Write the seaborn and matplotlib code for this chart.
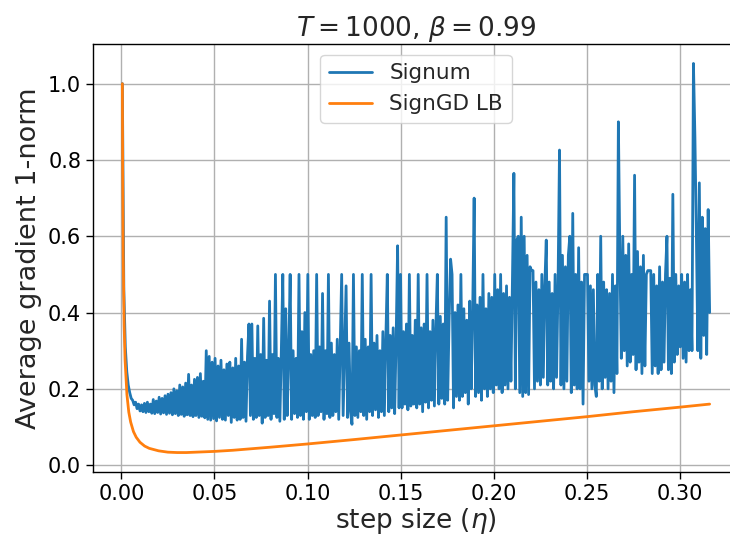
import numpy as np
import matplotlib
matplotlib.use("Agg")
import matplotlib.pyplot as plt
import seaborn as sns

# ---------------- data ----------------
eta_start, eta_end = 0.00055, 0.316
signum = [
    1.00, 0.46, 0.31, 0.245, 0.21, 0.19, 0.175, 0.17, 0.158, 0.165,
    0.148, 0.16, 0.142, 0.158, 0.14, 0.162, 0.138, 0.165, 0.14, 0.16,
    0.136, 0.172, 0.135, 0.168, 0.138, 0.178, 0.134, 0.175, 0.137, 0.182,
    0.133, 0.186, 0.136, 0.19, 0.132, 0.20, 0.135, 0.195, 0.13, 0.21,
    0.133, 0.205, 0.128, 0.215, 0.132, 0.238, 0.13, 0.21, 0.127, 0.225,
    0.13, 0.23, 0.125, 0.24, 0.128, 0.22, 0.124, 0.30, 0.12, 0.285,
    0.118, 0.27, 0.122, 0.28, 0.116, 0.26, 0.125, 0.275, 0.12, 0.25,
    0.118, 0.265, 0.13, 0.27, 0.112, 0.255, 0.125, 0.28, 0.118, 0.26,
    0.12, 0.33, 0.125, 0.27, 0.115, 0.285, 0.37, 0.13, 0.37, 0.12,
    0.28, 0.125, 0.365, 0.13, 0.29, 0.11, 0.385, 0.125, 0.275, 0.13,
    0.43, 0.12, 0.29, 0.135, 0.50, 0.125, 0.28, 0.115, 0.30, 0.50,
    0.12, 0.41, 0.13, 0.29, 0.50, 0.12, 0.30, 0.135, 0.28, 0.125,
    0.50, 0.13, 0.35, 0.12, 0.40, 0.14, 0.50, 0.12, 0.29, 0.13,
    0.30, 0.125, 0.50, 0.13, 0.31, 0.14, 0.45, 0.12, 0.30, 0.135,
    0.50, 0.125, 0.32, 0.13, 0.29, 0.14, 0.33, 0.12, 0.31, 0.50,
    0.13, 0.30, 0.47, 0.125, 0.32, 0.14, 0.107, 0.50, 0.13, 0.31,
    0.125, 0.30, 0.14, 0.50, 0.13, 0.33, 0.12, 0.31, 0.14, 0.50,
    0.13, 0.32, 0.145, 0.34, 0.125, 0.30, 0.14, 0.35, 0.13, 0.33,
    0.50, 0.14, 0.34, 0.15, 0.36, 0.135, 0.33, 0.575, 0.15, 0.50,
    0.15, 0.35, 0.16, 0.37, 0.145, 0.50, 0.155, 0.34, 0.16, 0.38,
    0.15, 0.50, 0.16, 0.36, 0.14, 0.37, 0.165, 0.50, 0.15, 0.35,
    0.17, 0.38, 0.155, 0.36, 0.50, 0.16, 0.39, 0.175, 0.37, 0.16,
    0.65, 0.17, 0.38, 0.54, 0.50, 0.15, 0.40, 0.18, 0.42, 0.17,
    0.50, 0.18, 0.41, 0.19, 0.38, 0.16, 0.43, 0.20, 0.40, 0.70,
    0.18, 0.42, 0.19, 0.44, 0.17, 0.50, 0.20, 0.41, 0.18, 0.45,
    0.20, 0.44, 0.19, 0.50, 0.21, 0.46, 0.20, 0.50, 0.19, 0.45,
    0.21, 0.47, 0.20, 0.44, 0.22, 0.48, 0.765, 0.20, 0.59, 0.60,
    0.19, 0.65, 0.18, 0.60, 0.19, 0.55, 0.185, 0.52, 0.51, 0.51,
    0.20, 0.48, 0.22, 0.46, 0.21, 0.50, 0.23, 0.47, 0.59, 0.21,
    0.48, 0.22, 0.45, 0.20, 0.50, 0.23, 0.47, 0.826, 0.21, 0.55,
    0.20, 0.52, 0.22, 0.55, 0.60, 0.19, 0.66, 0.21, 0.50, 0.20,
    0.57, 0.20, 0.48, 0.16, 0.50, 0.50, 0.50, 0.22, 0.47, 0.20,
    0.46, 0.21, 0.18, 0.50, 0.22, 0.60, 0.20, 0.48, 0.23, 0.46,
    0.20, 0.45, 0.22, 0.50, 0.19, 0.47, 0.24, 0.90, 0.55, 0.28,
    0.60, 0.30, 0.55, 0.26, 0.58, 0.27, 0.50, 0.29, 0.76, 0.25,
    0.56, 0.27, 0.52, 0.24, 0.55, 0.26, 0.50, 0.51, 0.51, 0.51,
    0.24, 0.50, 0.26, 0.47, 0.24, 0.52, 0.25, 0.48, 0.27, 0.50,
    0.60, 0.25, 0.49, 0.24, 0.71, 0.27, 0.50, 0.29, 0.47, 0.31,
    0.50, 0.28, 0.48, 0.27, 0.50, 0.30, 0.46, 0.30, 1.053, 0.86,
    0.60, 0.30, 0.74, 0.28, 0.65, 0.34, 0.62, 0.29, 0.67, 0.40,
]
lb_eta = [0.00055, 0.0007, 0.001, 0.0015, 0.002, 0.003, 0.004, 0.005, 0.0065,
          0.008, 0.01, 0.0125, 0.015, 0.02, 0.025, 0.03, 0.035, 0.04, 0.05,
          0.06, 0.08, 0.10, 0.125, 0.15, 0.175, 0.20, 0.225, 0.25, 0.275,
          0.30, 0.316]
lb_val = [1.00, 0.786, 0.55, 0.367, 0.276, 0.185, 0.139, 0.113, 0.088,
          0.073, 0.060, 0.050, 0.044, 0.0375, 0.034, 0.033, 0.033, 0.034, 0.036,
          0.039, 0.047, 0.0555, 0.067, 0.079, 0.091, 0.103, 0.115, 0.127, 0.140,
          0.152, 0.160]
title = r"$T = 1000$, $\beta = 0.99$"
xlabel = r"step size ($\eta$)"
ylabel = "Average gradient 1-norm"
series_names = ["Signum", "SignGD LB"]

eta_signum = np.linspace(eta_start, eta_end, len(signum))

# ---------------- style ----------------
sns.set_theme(style="ticks")
plt.rcParams.update({
    "font.family": ["DejaVu Sans"],
    "axes.edgecolor": "black",
    "axes.linewidth": 1.0,
    "axes.grid": True,
    "grid.color": "#b0b0b0",
    "grid.linewidth": 1.0,
    "xtick.color": "black",
    "ytick.color": "black",
    "xtick.direction": "out",
    "ytick.direction": "out",
    "mathtext.fontset": "dejavusans",
})

W, H = 730, 537
fig = plt.figure(figsize=(W / 100, H / 100), dpi=100)
# axes box in pixels: left 93, right ~739 (runs past the canvas edge as in the reference)
ax = fig.add_axes([93 / W, 65 / H, (739 - 93) / W, (493 - 65) / H])

sns.lineplot(x=eta_signum, y=signum, ax=ax, color="#1f77b4", linewidth=2.0,
             label=series_names[0], sort=False, estimator=None)
sns.lineplot(x=lb_eta, y=lb_val, ax=ax, color="#ff7f0e", linewidth=2.0,
             label=series_names[1], sort=False, estimator=None)

ax.set_yticks([0.0, 0.2, 0.4, 0.6, 0.8, 1.0])
ax.set_xticks([0.0, 0.05, 0.10, 0.15, 0.20, 0.25, 0.30])
ax.tick_params(labelsize=15, length=5, width=1)
ax.set_title(title, fontsize=19)
ax.set_xlabel(xlabel, fontsize=19, labelpad=1.5)
ax.set_ylabel(ylabel, fontsize=19.5)
ax.grid(True, color="#b0b0b0", linewidth=1.0)
for s in ax.spines.values():
    s.set_visible(True)
    s.set_color("black")

leg = ax.legend(loc="upper center", fontsize=15.5, frameon=True, fancybox=True,
                framealpha=0.8, edgecolor="#cccccc")
for line in leg.get_lines():
    line.set_linewidth(2.0)

fig.savefig("out.png", dpi=100)
